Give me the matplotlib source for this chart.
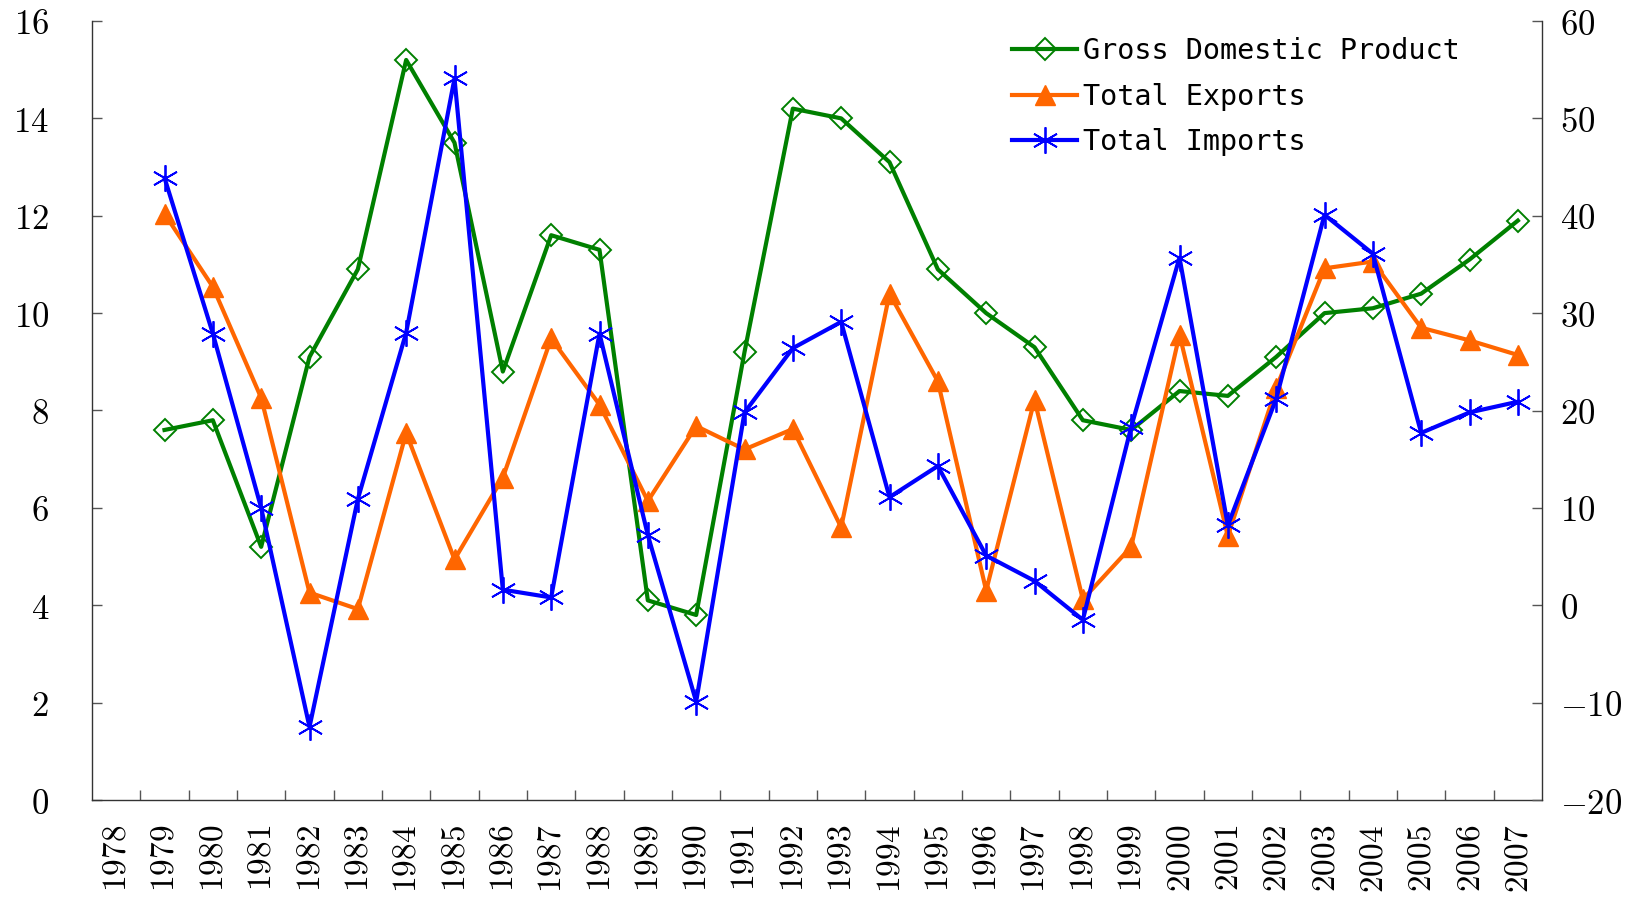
import numpy as np
import matplotlib
matplotlib.use("Agg")
import matplotlib.pyplot as plt
from matplotlib.ticker import FixedLocator

plt.rcParams['mathtext.fontset'] = 'cm'

# data
years = list(range(1978, 2008))
data_years = list(range(1979, 2008))

gdp = [7.6, 7.8, 5.2, 9.1, 10.9, 15.2, 13.5, 8.8, 11.6, 11.3,
       4.1, 3.8, 9.2, 14.2, 14.0, 13.1, 10.9, 10.0, 9.3, 7.8,
       7.6, 8.4, 8.3, 9.1, 10.0, 10.1, 10.4, 11.1, 11.9]

exports = [40.2, 32.7, 21.3, 1.3, -0.4, 17.7, 4.7, 13.1, 27.4, 20.6,
           10.7, 18.4, 16.0, 18.1, 8.0, 32.0, 23.0, 1.5, 21.1, 0.6,
           6.0, 27.8, 7.1, 22.3, 34.6, 35.3, 28.5, 27.2, 25.7]

imports = [43.9, 27.9, 10.0, -12.5, 10.9, 28.0, 54.1, 1.6, 0.8, 27.9,
           7.2, -9.9, 19.8, 26.4, 29.1, 11.1, 14.3, 5.1, 2.5, -1.5,
           18.3, 35.7, 8.2, 21.2, 40.1, 36.1, 17.7, 19.8, 20.9]

left_ticks = list(range(0, 17, 2))
right_ticks = list(range(-20, 61, 10))

fig = plt.figure(figsize=(16.27, 8.97), dpi=100)
ax1 = fig.add_axes([92/1627, 97/897, 1450/1627, 779/897])
ax2 = ax1.twinx()

pos = [years.index(y) for y in data_years]
asterisk = (6, 2, 0)

l1, = ax1.plot(pos, gdp, color='#008000', lw=3, marker='D', ms=11.5,
               mfc='none', mec='#008000', mew=1.4, label='Gross Domestic Product')
l2, = ax2.plot(pos, exports, color='#FF6600', lw=3, marker='^', ms=14,
               mfc='#FF6600', mec='#FF6600', label='Total Exports')
l3, = ax2.plot(pos, imports, color='#0000FF', lw=3, marker=asterisk, ms=19,
               mec='#0000FF', mew=1.3, label='Total Imports')

ax1.set_xlim(-0.5, len(years) - 0.5)
ax1.set_ylim(0, 16)
ax2.set_ylim(-20, 60)

ax1.set_xticks(range(len(years)))
ax1.set_xticklabels([f'${y}$' for y in years], rotation=90)
ax1.xaxis.set_minor_locator(FixedLocator(np.arange(0.5, len(years) - 0.5, 1)))
ax1.tick_params(axis='x', which='major', length=0, pad=18, labelsize=24)
ax1.tick_params(axis='x', which='minor', direction='in', length=7, width=1, color='#555555')

ax1.set_yticks(left_ticks)
ax1.set_yticklabels([f'${v}$' for v in left_ticks])
ax1.tick_params(axis='y', direction='in', length=7, width=1, color='#555555',
                pad=31, labelsize=25)

ax2.set_yticks(right_ticks)
ax2.set_yticklabels([f'${v}$' for v in right_ticks])
ax2.tick_params(axis='y', direction='in', length=7, width=1, color='#555555',
                pad=13, labelsize=25)

for ax in (ax1, ax2):
    ax.spines['top'].set_visible(False)
    for s in ('left', 'right', 'bottom'):
        ax.spines[s].set_color('#333333')
        ax.spines[s].set_linewidth(1)

ax1.spines['right'].set_visible(False)
ax2.spines['left'].set_visible(False)
ax2.spines['bottom'].set_visible(False)

leg = ax2.legend(handles=[l1, l2, l3], loc='upper left',
                 bbox_to_anchor=(1012/1627, 1 - 37/897), bbox_transform=fig.transFigure,
                 frameon=False, prop={'family': 'DejaVu Sans Mono', 'size': 20.5},
                 handlelength=2.3, handletextpad=0.2, labelspacing=0.62,
                 borderpad=0, borderaxespad=0)

fig.savefig('out.png', dpi=100)
